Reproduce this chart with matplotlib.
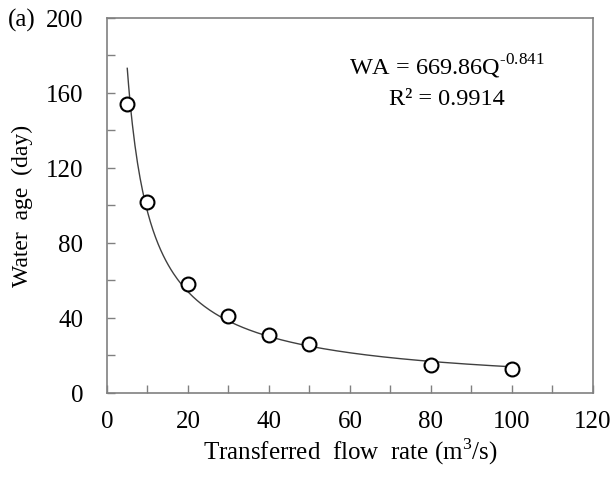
import numpy as np
import matplotlib.pyplot as plt
from matplotlib.ticker import MultipleLocator

# data
flow = [5, 10, 20, 30, 40, 50, 80, 100]
water_age = [154, 102, 58, 41, 31, 26, 15, 13]

# power trendline as printed on the chart: WA = a * Q^b
coef_a = 669.86
coef_b = -0.841
r2 = 0.9914

plt.rcParams['font.family'] = ['Liberation Serif', 'DejaVu Serif']
plt.rcParams['mathtext.fontset'] = 'custom'
plt.rcParams['mathtext.rm'] = 'Liberation Serif'

fig = plt.figure(figsize=(6.15, 4.81), dpi=100)
ax = fig.add_axes([0.174, 0.181, 0.790, 0.780])

q = np.linspace(min(flow), max(flow), 300)
ax.plot(q, coef_a * q ** coef_b, color='#404040', lw=1.0, zorder=2)
ax.plot(flow, water_age, 'o', ms=10, mfc='white', mec='black', mew=1.5, zorder=3)

ax.set_xlim(0, 120)
ax.set_ylim(0, 200)
ax.xaxis.set_major_locator(MultipleLocator(20))
ax.xaxis.set_minor_locator(MultipleLocator(10))
ax.yaxis.set_major_locator(MultipleLocator(40))
ax.yaxis.set_minor_locator(MultipleLocator(20))
ax.tick_params(which='both', direction='in', color='#808080', labelsize=18)
ax.tick_params(axis='y', pad=17)
ax.tick_params(axis='x', pad=12)
ax.tick_params(which='both', length=6, width=1)
for s in ax.spines.values():
    s.set_color('#808080')
    s.set_linewidth(1.2)

ax.set_xlabel('Transferred  flow  rate (m$^3$/s)', fontsize=18, labelpad=3)
ax.set_ylabel('Water  age  (day)', fontsize=17, labelpad=9)

ax.text(0.70, 0.872, 'WA = %.2fQ$^{\\text{%.3f}}$' % (coef_a, coef_b), transform=ax.transAxes,
        ha='center', va='center', fontsize=17.5)
ax.text(0.70, 0.786, 'R² = %.4f' % r2, transform=ax.transAxes,
        ha='center', va='center', fontsize=17.5)
fig.text(0.012, 0.958, '(a)', fontsize=18, va='center', ha='left')

fig.savefig('out.png', dpi=100)
